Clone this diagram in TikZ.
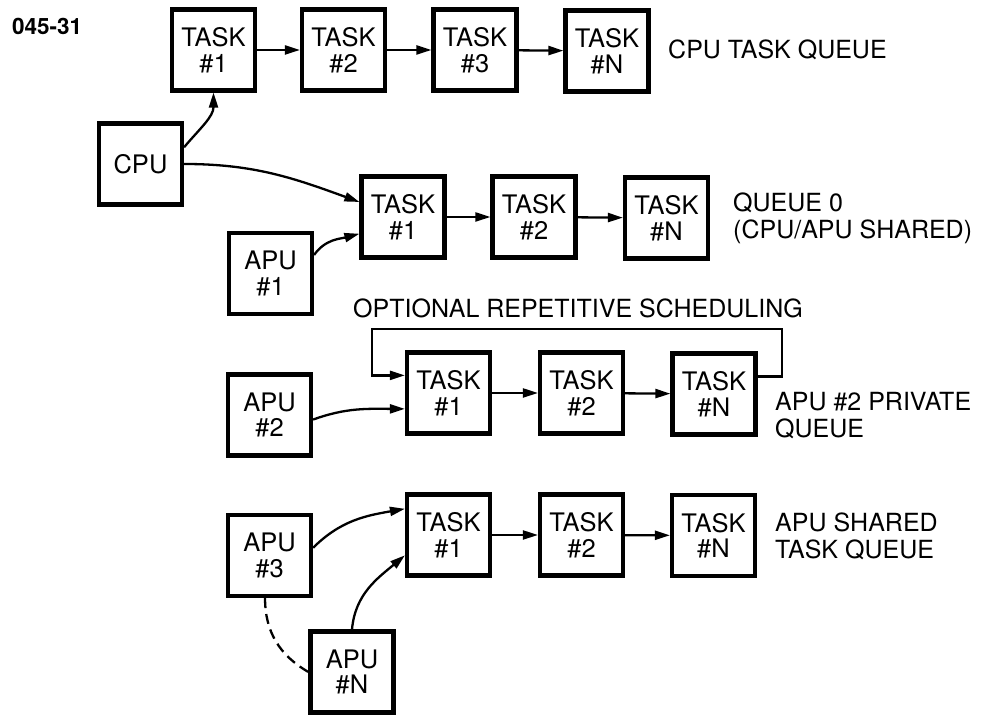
\documentclass[tikz,border=0pt]{standalone}
\usepackage{fontspec}
\setmainfont{TeX Gyre Heros}
\usetikzlibrary{arrows.meta}
\begin{document}
\begin{tikzpicture}[x=1pt,y=1pt,
  box/.style={draw,line width=4.2pt,minimum width=83pt,minimum height=81pt,inner sep=0pt,align=center,
    font=\fontsize{25.5}{25.5}\selectfont},
  lbl/.style={anchor=west,align=left,inner sep=0pt,font=\fontsize{25}{27}\selectfont},
  arr/.style={line width=2.3pt,-{Triangle[length=15pt,width=9pt]}},
  link/.style={line width=2.3pt}]
\useasboundingbox (0,0) rectangle (992,714);

\node[anchor=west,inner sep=0pt,font=\fontsize{22.5}{22.5}\bfseries\selectfont] (fig) at (12,688) {045-31};

% row 1
\node[box] (t11) at (213.5,664) {TASK\\\#1};
\node[box] (t12) at (343.5,664) {TASK\\\#2};
\node[box] (t13) at (475,664) {TASK\\\#3};
\node[box] (t1N) at (607,663) {TASK\\\#N};
\node[lbl] (l1) at (668,664) {CPU TASK QUEUE};

\node[box] (cpu) at (140.5,550) {CPU};

% row 2
\node[box] (t21) at (403,497) {TASK\\\#1};
\node[box] (t22) at (534,497) {TASK\\\#2};
\node[box] (t2N) at (666.5,496) {TASK\\\#N};
\node[lbl] (l2) at (733,496) {QUEUE 0\\(CPU/APU SHARED)};
\node[box] (apu1) at (270.5,440.5) {APU\\\#1};

% row 3
\node[lbl] (l3) at (353,406) {OPTIONAL REPETITIVE SCHEDULING};
\node[box] (t31) at (448.5,321) {TASK\\\#1};
\node[box] (t32) at (581.5,321) {TASK\\\#2};
\node[box] (t3N) at (714,320) {TASK\\\#N};
\node[lbl] (l4) at (775,298) {APU \#2 PRIVATE\\QUEUE};
\node[box] (apu2) at (269.5,299) {APU\\\#2};
\coordinate (loopR) at (782,385);
\coordinate (loopL) at (372,385);

% row 4
\node[box] (t41) at (448.5,179) {TASK\\\#1};
\node[box] (t42) at (581.5,179) {TASK\\\#2};
\node[box] (t4N) at (713.5,178.5) {TASK\\\#N};
\node[lbl] (l5) at (775,178) {APU SHARED\\TASK QUEUE};
\node[box] (apu3) at (269.5,158.5) {APU\\\#3};
\node[box] (apuN) at (352,42) {APU\\\#N};

% straight arrows
\draw[arr] (t11) -- (t12);
\draw[arr] (t12) -- (t13);
\draw[arr] (t13) -- (t1N);
\draw[arr] (t21) -- (t22);
\draw[arr] (t22) -- (t2N);
\draw[arr] (t31) -- (t32);
\draw[arr] (t32) -- (t3N);
\draw[arr] (t41) -- (t42);
\draw[arr] (t42) -- (t4N);

% curved arrows
\draw[arr] (cpu.21) to[out=50,in=-90] (t11.south);
\draw[arr] (cpu.east) to[out=0,in=160] (t21.161);
\draw[arr] (apu1.23) to[out=55,in=195] (t21.201);
\draw[arr] (apu2.-6) to[out=20,in=180] (t31.200);
\draw[arr] (apu3.10) to[out=45,in=190] (t41.149);
\draw[arr] (apuN.north) to[out=85,in=220] (t41.205);
\draw[link,dash pattern=on 10pt off 6pt] (apu3.-96) to[out=-90,in=150] (apuN.west);

% loop
\draw[arr] (t3N.22) -| (loopR) -- (loopL) |- (t31.158);
\end{tikzpicture}
\end{document}
